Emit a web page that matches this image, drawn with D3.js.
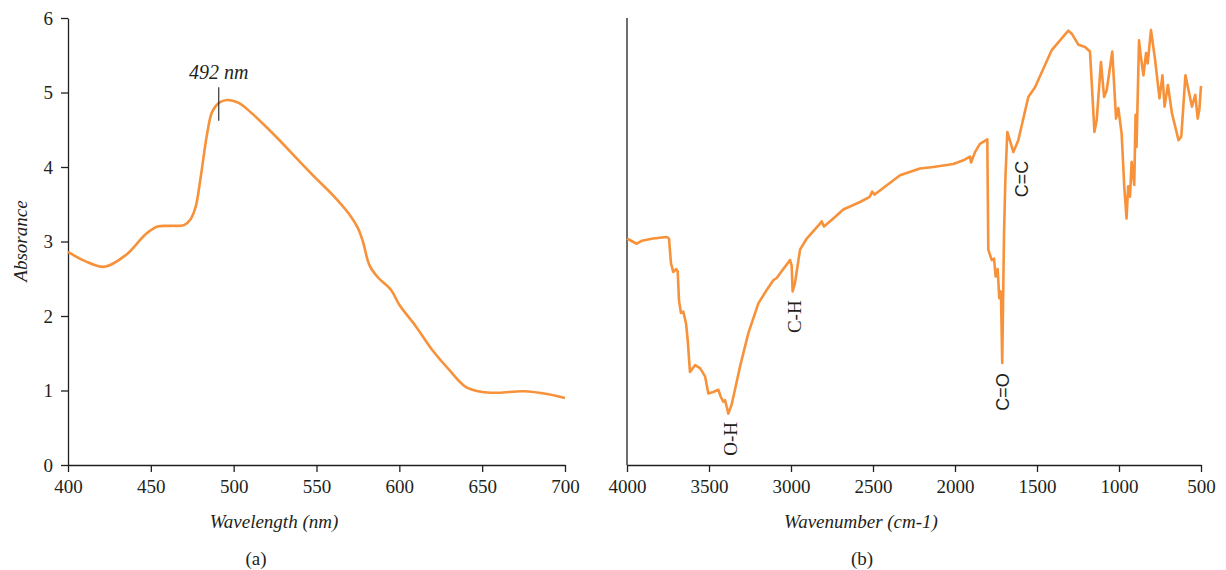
<!DOCTYPE html>
<html>
<head>
<meta charset="utf-8">
<script src="https://cdn.jsdelivr.net/npm/d3@7"></script>
<style>
  body { margin: 0; background: #fff; }
  text { fill: #231f20; }
</style>
</head>
<body>
<script>
const width = 1226;
const height = 570;

// UV-vis spectrum (a)
const uvWavelength = [400, 410, 422, 435, 447, 454, 462, 470, 474, 477, 480, 484, 487, 491, 496, 503, 510, 525, 540, 550, 560, 570, 575, 578, 582, 587, 595, 600, 610, 620, 630, 640, 650, 660, 675, 690, 700];
const uvAbsorbance = [2.86, 2.74, 2.66, 2.82, 3.1, 3.2, 3.21, 3.22, 3.3, 3.46, 3.85, 4.45, 4.74, 4.86, 4.9, 4.86, 4.74, 4.42, 4.07, 3.84, 3.62, 3.36, 3.18, 3.0, 2.68, 2.52, 2.35, 2.15, 1.86, 1.54, 1.28, 1.05, 0.98, 0.97, 0.99, 0.95, 0.9];
const uvTicksX = [400, 450, 500, 550, 600, 650, 700];
const uvTicksY = [0, 1, 2, 3, 4, 5, 6];

// FTIR spectrum (b)
const irWavenumber = [4000, 3992, 3941, 3910, 3840, 3758, 3744, 3732, 3718, 3701, 3691, 3683, 3671, 3657, 3640, 3630, 3616, 3585, 3555, 3524, 3504, 3474, 3443, 3429, 3413, 3402, 3382, 3362, 3311, 3260, 3199, 3148, 3108, 3087, 3057, 3006, 2996, 2990, 2976, 2945, 2904, 2823, 2813, 2799, 2742, 2681, 2579, 2520, 2505, 2490, 2335, 2213, 2132, 2010, 1949, 1909, 1902, 1878, 1848, 1803, 1797, 1776, 1762, 1752, 1740, 1730, 1720, 1712, 1701, 1693, 1681, 1644, 1614, 1553, 1512, 1410, 1309, 1288, 1247, 1207, 1177, 1166, 1150, 1136, 1110, 1091, 1075, 1041, 1018, 1004, 984, 968, 954, 944, 933, 923, 907, 899, 893, 878, 868, 851, 835, 825, 805, 780, 753, 735, 722, 702, 677, 637, 620, 595, 555, 535, 520, 510, 500];
const irSignal = [3.04, 3.03, 2.97, 3.01, 3.04, 3.06, 3.04, 2.71, 2.59, 2.63, 2.6, 2.21, 2.04, 2.06, 1.9, 1.68, 1.25, 1.34, 1.3, 1.19, 0.96, 0.98, 1.01, 0.92, 0.85, 0.87, 0.69, 0.81, 1.32, 1.77, 2.17, 2.35, 2.48, 2.51, 2.6, 2.75, 2.68, 2.33, 2.44, 2.89, 3.04, 3.24, 3.27, 3.2, 3.31, 3.43, 3.53, 3.6, 3.67, 3.63, 3.89, 3.98, 4.0, 4.04, 4.09, 4.14, 4.06, 4.2, 4.31, 4.37, 2.89, 2.75, 2.77, 2.53, 2.63, 2.24, 2.33, 1.37, 3.11, 3.83, 4.47, 4.2, 4.36, 4.94, 5.07, 5.57, 5.83, 5.79, 5.64, 5.61, 5.55, 5.12, 4.47, 4.63, 5.41, 4.94, 5.03, 5.55, 4.65, 4.79, 4.45, 3.74, 3.31, 3.74, 3.6, 4.07, 3.76, 4.7, 4.27, 5.7, 5.5, 5.23, 5.53, 5.39, 5.84, 5.44, 4.92, 5.23, 4.81, 5.1, 4.72, 4.36, 4.41, 5.23, 4.81, 4.97, 4.65, 4.77, 5.09];
const irTicksX = [4000, 3500, 3000, 2500, 2000, 1500, 1000, 500];
const irBands = [
  { label: 'O-H', wn: 3370, y: 0.35, serif: true },
  { label: 'C-H', wn: 2980, y: 1.99, serif: true },
  { label: 'C=O', wn: 1710, y: 0.98, serif: false },
  { label: 'C=C', wn: 1590, y: 3.84, serif: false }
];

const lineColor = '#f7923a';
const axisColor = '#231f20';
const serif = '"Liberation Serif", "DejaVu Serif", serif';
const sans = '"Liberation Sans", Arial, sans-serif';

const svg = d3.select('body').append('svg')
  .attr('width', width)
  .attr('height', height);

const y = d3.scaleLinear().domain([0, 6]).range([465, 18]);

function styleAxis(g) {
  g.select('.domain').attr('stroke', axisColor).attr('stroke-width', 1.3);
  g.selectAll('.tick line').attr('stroke', axisColor).attr('stroke-width', 1.3);
  g.selectAll('.tick text')
    .attr('font-family', serif)
    .attr('font-size', 19)
    .attr('fill', axisColor);
}

// ---- panel (a)
const xa = d3.scaleLinear().domain([400, 700]).range([68, 565]);
const ga = svg.append('g');

ga.append('g')
  .attr('transform', 'translate(0,465)')
  .call(d3.axisBottom(xa).tickValues(uvTicksX).tickFormat(d3.format('d')).tickSize(7).tickPadding(8).tickSizeOuter(0))
  .call(styleAxis);

ga.append('g')
  .attr('transform', 'translate(68,0)')
  .call(d3.axisLeft(y).tickValues(uvTicksY).tickFormat(d3.format('d')).tickSize(7).tickPadding(8).tickSizeOuter(0))
  .call(styleAxis);

const uvData = uvWavelength.map((w, i) => [w, uvAbsorbance[i]]);
ga.append('path')
  .datum(uvData)
  .attr('fill', 'none')
  .attr('stroke', lineColor)
  .attr('stroke-width', 2.6)
  .attr('d', d3.line().x(d => xa(d[0])).y(d => y(d[1])).curve(d3.curveCatmullRom.alpha(0.5)));

// 492 nm marker
ga.append('line')
  .attr('x1', xa(491)).attr('x2', xa(491))
  .attr('y1', y(5.07)).attr('y2', y(4.62))
  .attr('stroke', axisColor).attr('stroke-width', 1.1);
ga.append('text')
  .attr('x', xa(491)).attr('y', 79)
  .attr('text-anchor', 'middle')
  .attr('font-family', serif).attr('font-style', 'italic').attr('font-size', 20)
  .text('492 nm');

ga.append('text')
  .attr('x', 274).attr('y', 528)
  .attr('text-anchor', 'middle')
  .attr('font-family', serif).attr('font-style', 'italic').attr('font-size', 19)
  .text('Wavelength (nm)');

ga.append('text')
  .attr('transform', 'translate(27,241) rotate(-90)')
  .attr('text-anchor', 'middle')
  .attr('font-family', serif).attr('font-style', 'italic').attr('font-size', 19)
  .text('Absorance');

ga.append('text')
  .attr('x', 256).attr('y', 565)
  .attr('text-anchor', 'middle')
  .attr('font-family', serif).attr('font-size', 19)
  .text('(a)');

// ---- panel (b)
const xb = d3.scaleLinear().domain([4000, 500]).range([627, 1201]);
const gb = svg.append('g');

gb.append('g')
  .attr('transform', 'translate(0,465)')
  .call(d3.axisBottom(xb).tickValues(irTicksX).tickFormat(d3.format('d')).tickSize(7).tickPadding(8).tickSizeOuter(0))
  .call(styleAxis);

gb.append('line')
  .attr('x1', 627).attr('x2', 627)
  .attr('y1', y(6)).attr('y2', y(0))
  .attr('stroke', axisColor).attr('stroke-width', 1.3);

const irData = irWavenumber.map((w, i) => [w, irSignal[i]]);
gb.append('path')
  .datum(irData)
  .attr('fill', 'none')
  .attr('stroke', lineColor)
  .attr('stroke-width', 2.6)
  .attr('stroke-linejoin', 'round')
  .attr('d', d3.line().x(d => xb(d[0])).y(d => y(d[1])));

gb.selectAll('.band')
  .data(irBands)
  .enter().append('text')
  .attr('class', 'band')
  .attr('transform', d => `translate(${xb(d.wn)},${y(d.y)}) rotate(-90)`)
  .attr('text-anchor', 'middle')
  .attr('dominant-baseline', 'central')
  .attr('font-family', d => d.serif ? serif : sans)
  .attr('font-size', d => d.serif ? 19 : 18)
  .text(d => d.label);

gb.append('text')
  .attr('x', 861).attr('y', 528)
  .attr('text-anchor', 'middle')
  .attr('font-family', serif).attr('font-style', 'italic').attr('font-size', 19)
  .text('Wavenumber (cm-1)');

gb.append('text')
  .attr('x', 862).attr('y', 565)
  .attr('text-anchor', 'middle')
  .attr('font-family', serif).attr('font-size', 19)
  .text('(b)');
</script>
</body>
</html>
